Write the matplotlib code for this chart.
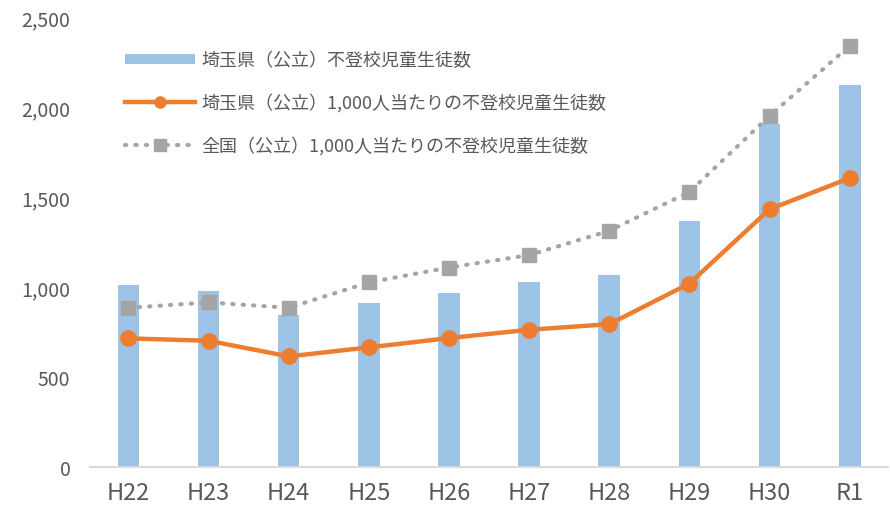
import matplotlib

matplotlib.use("Agg")
import matplotlib.pyplot as plt
import numpy as np
from matplotlib.lines import Line2D
from matplotlib.patches import Patch

plt.rcParams["font.family"] = ["Noto Sans CJK JP", "DejaVu Sans"]

years = ["H22", "H23", "H24", "H25", "H26", "H27", "H28", "H29", "H30", "R1"]
saitama_count = [1011, 980, 844, 909, 970, 1030, 1070, 1367, 1906, 2122]
saitama_per1000 = [715, 702, 615, 665, 717, 763, 794, 1020, 1433, 1606]
national_per1000 = [885, 915, 885, 1026, 1109, 1178, 1313, 1529, 1952, 2341]

labels = [
    "埼玉県（公立）不登校児童生徒数",
    "埼玉県（公立）1,000人当たりの不登校児童生徒数",
    "全国（公立）1,000人当たりの不登校児童生徒数",
]

BLUE = "#9dc3e6"
ORANGE = "#ed7d31"
GREY = "#a5a5a5"
TEXT = "#595959"

fig = plt.figure(figsize=(8.9, 5.06), dpi=100)
ax = fig.add_axes([0.101, 0.075, 0.897, 0.889])

x = np.arange(len(years))
ax.bar(x, saitama_count, width=0.27, color=BLUE, zorder=1)
ax.plot(x, saitama_per1000, color=ORANGE, lw=3.2, marker="o", ms=11, zorder=3)
ax.plot(x, national_per1000, color=GREY, lw=3, ls=(0, (0.3, 2.2)),
        dash_capstyle="round", marker="s", ms=10, zorder=2)

ax.set_xlim(-0.48, len(years) - 0.52)
ax.set_ylim(0, 2500)
ax.set_yticks(np.arange(0, 2501, 500))
ax.set_yticklabels([f"{v:,}" for v in range(0, 2501, 500)])
ax.set_xticks(x)
ax.set_xticklabels(years)
ax.tick_params(axis="y", length=0, labelsize=14, colors=TEXT, pad=14)
ax.tick_params(axis="x", length=0, labelsize=17, colors=TEXT, pad=10)
for s in ("top", "right", "left"):
    ax.spines[s].set_visible(False)
ax.spines["bottom"].set_color("#d9d9d9")
ax.spines["bottom"].set_linewidth(1.5)

handles = [
    Patch(facecolor=BLUE, edgecolor="none"),
    Line2D([], [], color=ORANGE, lw=3.2, marker="o", ms=8),
    Line2D([], [], color=GREY, lw=3, ls=(0, (0.3, 2.2)),
           dash_capstyle="round", marker="s", ms=8),
]
leg = ax.legend(handles, labels, loc="upper left", bbox_to_anchor=(0.035, 0.94),
                borderaxespad=0, frameon=False, fontsize=13, labelcolor=TEXT,
                handlelength=3.9, handleheight=0.45, labelspacing=1.32,
                handletextpad=0.3)

fig.savefig("out.png", dpi=100)
